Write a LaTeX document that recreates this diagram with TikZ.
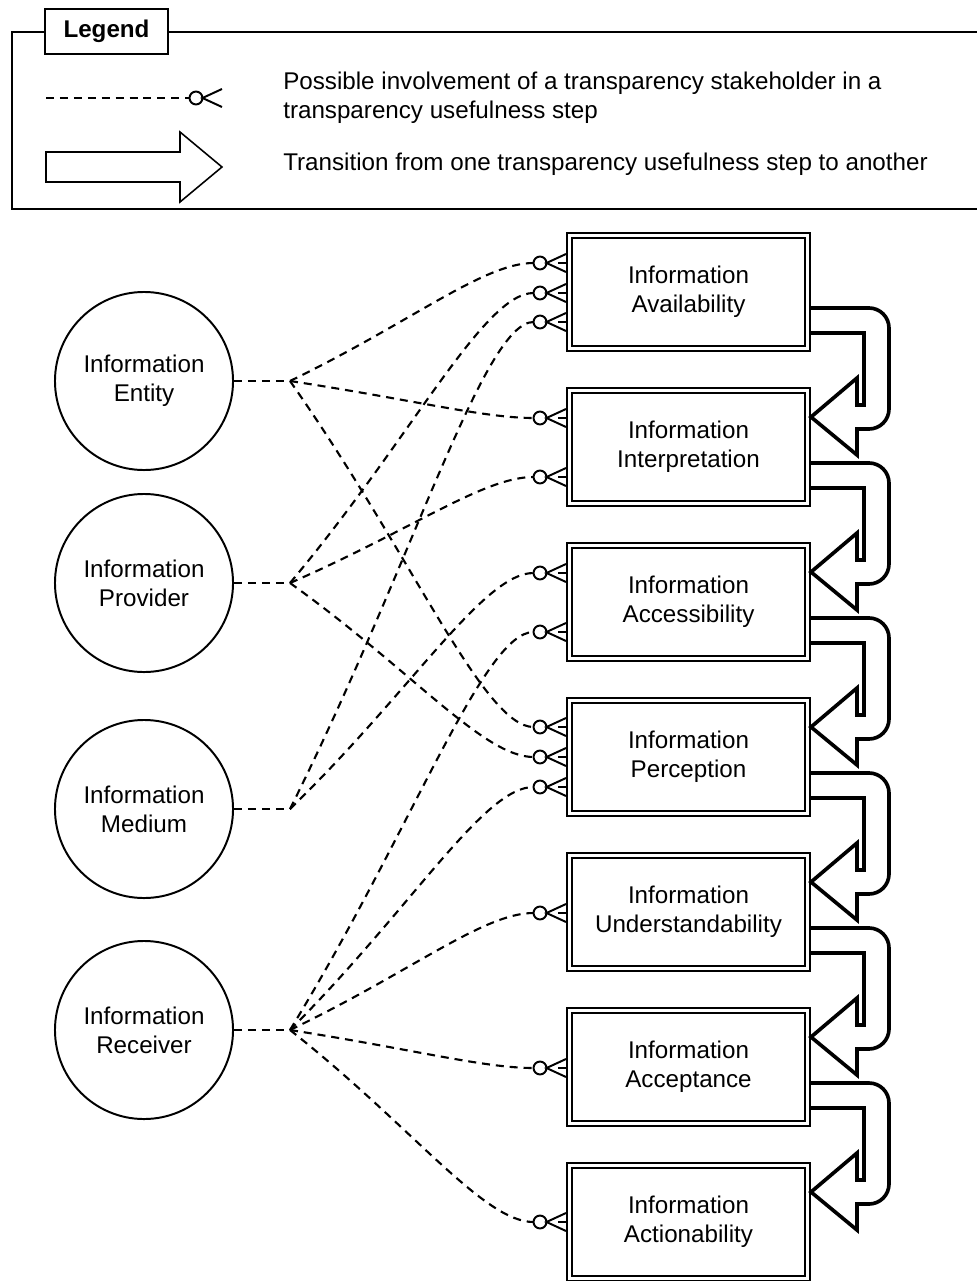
\documentclass[tikz,border=0pt]{standalone}
\usepackage{fontspec}
\setmainfont{Liberation Sans}
\usetikzlibrary{calc}
\newcommand{\diagfont}{\fontsize{17.2}{20.6}\selectfont}

\begin{document}
\begin{tikzpicture}[
  x=0.025cm, y=-0.025cm,
  stakeholder/.style={circle, draw, line width=1.4pt, minimum size=4.45cm, inner sep=0pt, font=\diagfont, align=center},
  stepbox/.style={rectangle, draw, double, double distance=2.2pt, line width=1.1pt, minimum width=5.95cm, minimum height=2.825cm, font=\diagfont, align=center},
  involve/.style={dash pattern=on 5.7pt off 4.2pt, line width=1.5pt},
  foot/.style={line width=1.4pt},
  transition/.style={line width=2.6pt, line join=miter},
  legendframe/.style={line width=1.1pt},
  legendtext/.style={font=\diagfont, anchor=west, align=left, inner sep=0pt}
]
  \useasboundingbox (0,0) rectangle (976,1281);

  % legend
  \draw[legendframe] (995,32) -- (12,32) -- (12,209) -- (995,209);
  \node[draw, legendframe, fill=white, minimum width=3.075cm, minimum height=1.125cm, font=\diagfont\bfseries] (legend-title) at (106.5,31.5) {Legend};
  \coordinate (legend-edge) at (222,98);
  \draw[involve] (46,98) -- ($(legend-edge)+(-32.5,0)$);
  \draw[foot] ($(legend-edge)+(-26,0)$) circle[radius=4.6pt];
  \draw[foot] ($(legend-edge)+(0,-9)$) -- ($(legend-edge)+(-19.5,0)$) -- ($(legend-edge)+(0,9)$);
  \node[legendtext] (legend-involve) at (283,97.5) {Possible involvement of a transparency stakeholder in a\\transparency usefulness step};
  \draw[legendframe] (46,152) -- (180,152) -- (180,132) -- (222,167) -- (180,202) -- (180,182) -- (46,182) -- cycle;
  \node[legendtext] (legend-transition) at (283,164) {Transition from one transparency usefulness step to another};

  % stakeholders
  \node[stakeholder] (entity) at (144,381) {Information\\Entity};
  \node[stakeholder] (provider) at (144,583) {Information\\Provider};
  \node[stakeholder] (medium) at (144,809) {Information\\Medium};
  \node[stakeholder] (receiver) at (144,1030) {Information\\Receiver};
  \foreach \s in {entity, provider, medium, receiver} {
    \coordinate (\s-hub) at ($(\s.center)+(146,0)$);
    \draw[involve] (\s.east) -- (\s-hub);
  }

  % usefulness steps
  \node[stepbox] (avail) at (688.5,292) {Information\\Availability};
  \node[stepbox] (interp) at (688.5,447) {Information\\Interpretation};
  \node[stepbox] (access) at (688.5,602) {Information\\Accessibility};
  \node[stepbox] (percep) at (688.5,757) {Information\\Perception};
  \node[stepbox] (under) at (688.5,912) {Information\\Understandability};
  \node[stepbox] (accept) at (688.5,1067) {Information\\Acceptance};
  \node[stepbox] (action) at (688.5,1222) {Information\\Actionability};

  % involvement connectors
  \foreach \src/\dst/\dy [count=\k] in {entity/avail/-29, provider/avail/1, medium/avail/30,
      entity/interp/-29, provider/interp/30, medium/access/-29, receiver/access/30,
      entity/percep/-30, provider/percep/0, receiver/percep/30,
      receiver/under/1, receiver/accept/1, receiver/action/0} {
    \coordinate (edge\k) at ($(\dst.center)+(-122.5,\dy)$);
    \coordinate (tip\k) at ($(edge\k)+(-32.5,0)$);
    \draw[involve] (\src-hub) .. controls ($(\src-hub)!0.5!(tip\k)$) and ($(tip\k)+(-50,0)$) .. (tip\k);
    \draw[foot] ($(edge\k)+(-26,0)$) circle[radius=4.6pt];
    \draw[foot] ($(edge\k)+(0,-9)$) -- ($(edge\k)+(-19.5,0)$) -- ($(edge\k)+(0,9)$)
      ($(edge\k)+(-8,0)$) -- (edge\k);
  }

  % transitions
  \foreach \a/\b in {avail/interp, interp/access, access/percep, percep/under, under/accept, accept/action} {
    \coordinate (out) at ($(\a.center)+(122.5,0)$);
    \coordinate (in) at ($(\b.center)+(122.5,-30)$);
    \draw[transition] ($(out)+(0,16)$) -- ($(out)+(58,16)$)
      .. controls ($(out)+(69,16)$) and ($(out)+(78,25)$) .. ($(out)+(78,36)$)
      -- ($(in)+(78,-8)$) .. controls ($(in)+(78,3)$) and ($(in)+(69,12)$) .. ($(in)+(58,12)$)
      -- ($(in)+(46,12)$) -- ($(in)+(46,38)$) -- (in) -- ($(in)+(46,-39)$)
      -- ($(in)+(46,-12)$) -- ($(in)+(53,-12)$) -- ($(out)+(53,41)$) -- ($(out)+(0,41)$);
  }
\end{tikzpicture}
\end{document}
